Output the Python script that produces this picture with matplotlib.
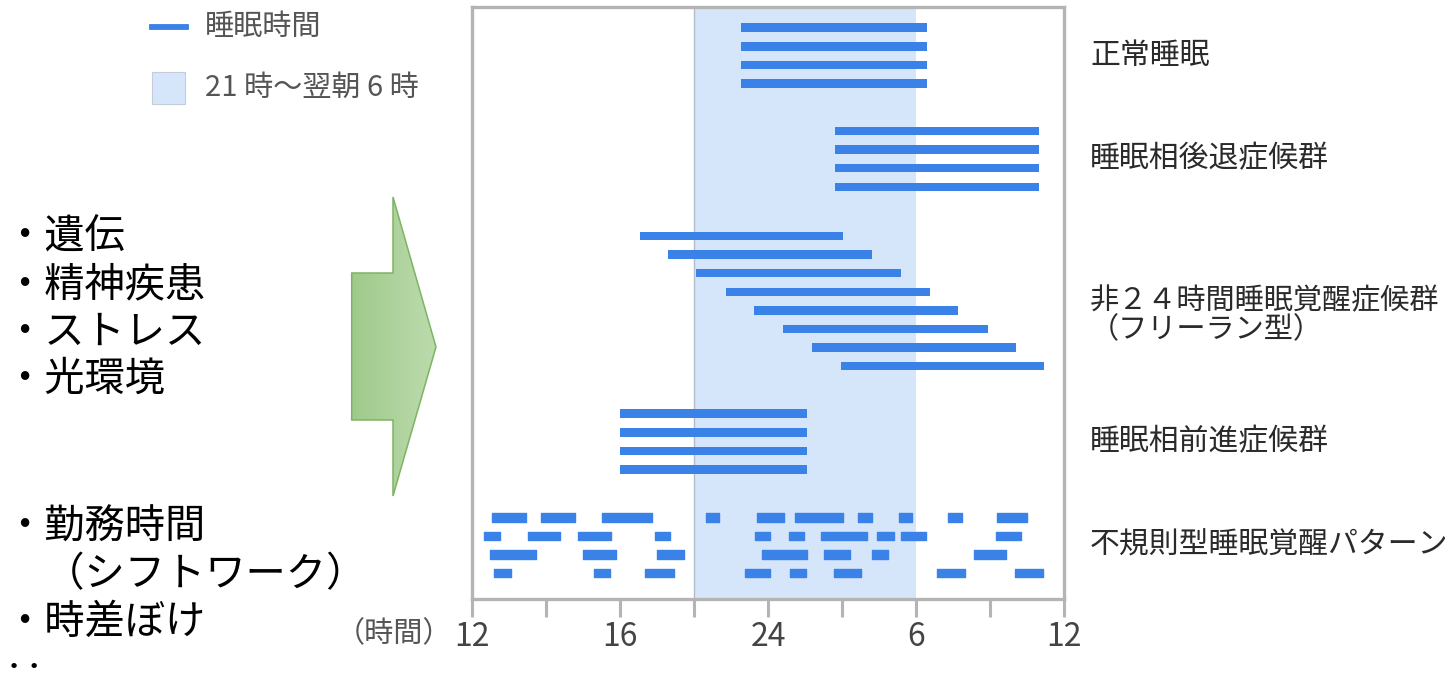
import numpy as np
import matplotlib.pyplot as plt
from matplotlib.patches import Polygon, Rectangle
from matplotlib.lines import Line2D
from matplotlib.colors import LinearSegmentedColormap

plt.rcParams['font.family'] = ['Noto Sans CJK JP', 'DejaVu Sans']

# sleep periods in hours (12 = noon, 24 = midnight, 36 = next noon)
normal_start = [22.9, 22.9, 22.9, 22.9]
normal_end = [30.45, 30.45, 30.45, 30.45]
delayed_start = [26.7, 26.7, 26.7, 26.7]
delayed_end = [35.0, 35.0, 35.0, 35.0]
non24_start = [18.8, 19.95, 21.1, 22.3, 23.45, 24.6, 25.8, 26.95]
non24_end = [27.05, 28.2, 29.4, 30.55, 31.7, 32.9, 34.05, 35.2]
advanced_start = [18.0, 18.0, 18.0, 18.0]
advanced_end = [25.6, 25.6, 25.6, 25.6]
irregular = [
    [(12.81, 14.19), (14.81, 16.18), (17.28, 19.28), (21.48, 22.03), (23.54, 24.63),
     (25.11, 27.05), (27.66, 28.21), (29.3, 29.85), (31.29, 31.85), (33.3, 34.52)],
    [(12.48, 13.15), (14.26, 15.56), (16.31, 17.63), (19.41, 20.02), (23.47, 24.08),
     (24.84, 25.45), (26.14, 28.0), (28.42, 29.11), (29.38, 30.41), (33.23, 34.25)],
    [(12.75, 14.59), (16.52, 17.82), (19.49, 20.59), (23.75, 25.59), (26.28, 27.31),
     (28.21, 28.88), (32.34, 33.63)],
    [(12.88, 13.57), (16.93, 17.61), (19.0, 20.18), (23.06, 24.08), (24.9, 25.53),
     (26.69, 27.79), (30.87, 32.0), (34.03, 35.13)],
]

group_labels = ['正常睡眠', '睡眠相後退症候群', '非２４時間睡眠覚醒症候群\n（フリーラン型）',
                '睡眠相前進症候群', '不規則型睡眠覚醒パターン']
tick_pos = [12, 18, 24, 30, 36]
tick_labels = ['12', '16', '24', '6', '12']
minor_pos = [15, 21, 27, 33]
night_start, night_end = 21, 30

causes_a = ['・遺伝', '・精神疾患', '・ストレス', '・光環境']
causes_b = ['・勤務時間', '\u3000（シフトワーク）', '・時差ぼけ', '‥']

bar_color = '#3a81e8'
band_color = '#d6e6fa'
frame_color = '#b4b4b4'

W, H = 1454, 674
fig = plt.figure(figsize=(W / 100, H / 100), dpi=100)
ax = fig.add_axes([472 / W, 1 - 599 / H, (1064 - 472) / W, (599 - 7) / H])
ax.set_xlim(12, 36)
ax.set_ylim(599, 7)  # y measured in pixel rows from the top

ax.axvspan(night_start, night_end, color=band_color, lw=0, zorder=0)
ax.axvline(night_start, color='#b3bccb', lw=1.0, zorder=0.5)

row_step = 18.6
bar_h = 8.5
group_top = [27.7, 131, 236, 413.7, 517.3]

groups = [(normal_start, normal_end), (delayed_start, delayed_end),
          (non24_start, non24_end), (advanced_start, advanced_end)]
centers = []
for (st, en), top in zip(groups, group_top):
    ys = [top + i * row_step for i in range(len(st))]
    ax.barh(ys, np.array(en) - np.array(st), left=st, height=bar_h, color=bar_color, zorder=2)
    centers.append((ys[0] + ys[-1]) / 2)

ys = [group_top[4] + i * row_step for i in range(len(irregular))]
for y, segs in zip(ys, irregular):
    ax.broken_barh([(a, b - a) for a, b in segs], (y - bar_h / 2, bar_h), color=bar_color, zorder=2)
centers.append((ys[0] + ys[-1]) / 2)

label_x = 36 + (1090 - 1064) / (592 / 24)
for lab, c in zip(group_labels, centers):
    if '\n' in lab:
        ax.text(label_x, c - 15, lab, fontsize=21, color='#2a2a2a', va='top', ha='left',
                linespacing=0.95, clip_on=False)
    else:
        ax.text(label_x, c, lab, fontsize=21.5, color='#2a2a2a', va='center', ha='left', clip_on=False)

for s in ax.spines.values():
    s.set_color(frame_color)
    s.set_linewidth(2.4)
ax.set_yticks([])
ax.set_xticks(tick_pos, tick_labels)
ax.set_xticks(minor_pos, minor=True)
ax.tick_params(axis='x', which='both', length=13, width=2.2, color=frame_color,
               labelsize=23, labelcolor='#444444', pad=3)

# overlay in pixel coordinates for legend, arrow and left text
ov = fig.add_axes([0, 0, 1, 1])
ov.axis('off')

pts = [(351.7, 273), (393, 273), (393, 197), (436, 347), (393, 496), (393, 420), (351.7, 420)]
poly = Polygon(pts, closed=True, facecolor='none', edgecolor='#7db462', lw=1.1, zorder=3)
ov.add_patch(poly)
cmap = LinearSegmentedColormap.from_list('g', ['#9fca8b', '#bddbae'])
im = ov.imshow(np.linspace(0, 1, 256).reshape(1, -1), extent=[351.7, 436, 496, 197],
               cmap=cmap, aspect='auto', zorder=2)
im.set_clip_path(poly)

ov.add_line(Line2D([152, 186], [27, 27], color=bar_color, lw=4.2))
ov.add_patch(Rectangle((152, 72), 33, 32, facecolor=band_color, edgecolor='#c4ccd8', lw=0.8))
ov.text(205, 27, '睡眠時間', fontsize=21, color='#555555', va='center', ha='left')
ov.text(205, 88, '21 時〜翌朝 6 時', fontsize=21, color='#555555', va='center', ha='left')

for i, s in enumerate(causes_a):
    ov.text(4, 237 + i * 47.5, s, fontsize=29, color='black', va='center', ha='left')
for i, s in enumerate(causes_b):
    ov.text(4, 527 + i * 47.5, s, fontsize=29, color='black', va='center', ha='left')

ov.text(452, 634, '（時間）', fontsize=21, color='#555555', va='center', ha='right')

ov.set_xlim(0, W)
ov.set_ylim(H, 0)

fig.savefig('out.png', dpi=100)
